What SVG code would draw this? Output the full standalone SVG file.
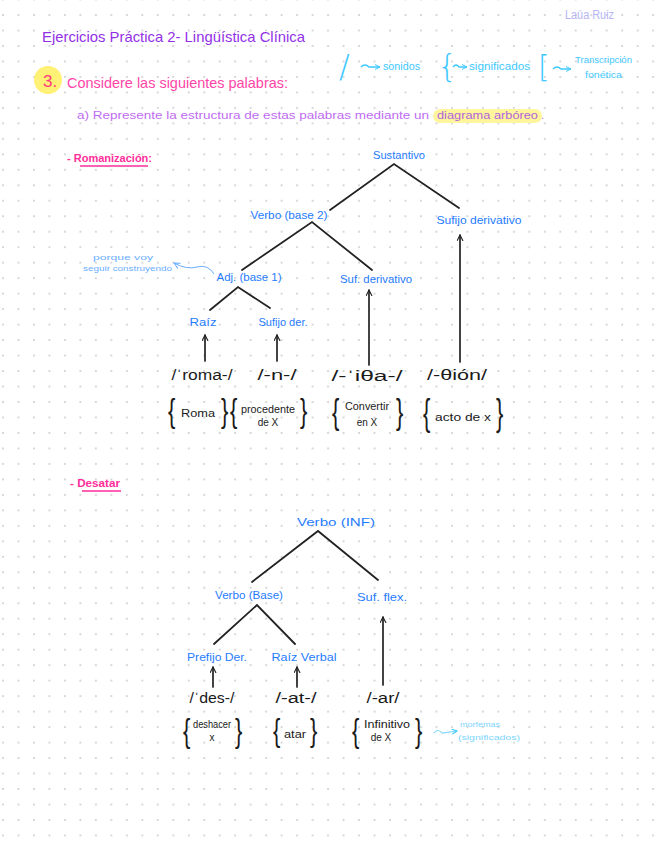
<svg xmlns="http://www.w3.org/2000/svg" width="656" height="848" viewBox="0 0 656 848">
<defs>
<pattern id="dots" patternUnits="userSpaceOnUse" x="-4.74" y="7.26" width="15.48" height="15.48">
<circle cx="7.74" cy="7.74" r="0.9" fill="#c6c6c6"/>
</pattern>
<marker id="ah" viewBox="0 0 10 10" refX="9" refY="5" markerWidth="7" markerHeight="7" markerUnits="userSpaceOnUse" orient="auto">
<path d="M1,1 L9,5 L1,9" fill="none" stroke="#222" stroke-width="1.6" stroke-linecap="round" stroke-linejoin="round"/>
</marker>
<marker id="ahc" viewBox="0 0 10 10" refX="9" refY="5" markerWidth="6" markerHeight="6" markerUnits="userSpaceOnUse" orient="auto">
<path d="M1,1 L9,5 L1,9" fill="none" stroke="#3ec8ff" stroke-width="1.6" stroke-linecap="round"/>
</marker>
<marker id="ahb" viewBox="0 0 10 10" refX="9" refY="5" markerWidth="7" markerHeight="7" markerUnits="userSpaceOnUse" orient="auto">
<path d="M1,1 L9,5 L1,9" fill="none" stroke="#6aaeff" stroke-width="1.4" stroke-linecap="round"/>
</marker>
</defs>
<style>
text { font-family: "Liberation Sans", "Noto Sans", sans-serif; }
.lbl { fill: #1f7cff; font-size: 11px; text-anchor: middle; }
.ph { fill: #1a1a1a; font-size: 14px; text-anchor: middle; }
.mn { fill: #1a1a1a; font-size: 10px; text-anchor: middle; }
.br { fill: #1a1a1a; font-size: 22px; }
.lg { font-weight: 200; font-family: "DejaVu Sans", "Liberation Sans", sans-serif; }
.cy { fill: #3ec8ff; }
.tree { stroke: #222; stroke-width: 1.8; fill: none; stroke-linecap: round; }
.arr { stroke: #222; stroke-width: 1.7; fill: none; stroke-linecap: round; marker-end: url(#ah); }
</style>
<rect width="656" height="848" fill="#ffffff"/>
<rect width="656" height="848" fill="url(#dots)"/>

<g id="header">
<text x="565" y="19" font-size="12" fill="#b5b5f3" textLength="49" lengthAdjust="spacingAndGlyphs">Laúa Ruiz</text>
<text x="42" y="42" font-size="15" fill="#9330e6" textLength="263" lengthAdjust="spacingAndGlyphs">Ejercicios Práctica 2- Lingüística Clínica</text>
<circle cx="48" cy="80" r="14" fill="#fff176"/>
<text x="43" y="87" font-size="17" fill="#ff3c7c">3.</text>
<text x="67" y="88" font-size="15" fill="#ff45a8" textLength="221" lengthAdjust="spacingAndGlyphs">Considere las siguientes palabras:</text>
<text x="77" y="119" font-size="11" fill="#c06cf2" textLength="352" lengthAdjust="spacingAndGlyphs">a) Represente la estructura de estas palabras mediante un</text>
<rect x="433" y="109" width="109" height="14" rx="7" fill="#fff59d"/>
<text x="437" y="119" font-size="11" fill="#b263dc" textLength="101" lengthAdjust="spacingAndGlyphs">diagrama arbóreo</text>
<text x="541" y="119" font-size="11" fill="#c06cf2">.</text>
</g>

<g id="legend">
<text x="339" y="77" font-size="32" class="cy lg">/</text>
<path d="M361,67 Q365,63 369,67 L380,67" stroke="#3ec8ff" stroke-width="1.4" fill="none" marker-end="url(#ahc)"/>
<text x="383" y="70" font-size="10" class="cy" textLength="37" lengthAdjust="spacingAndGlyphs">sonidos</text>
<text x="437" y="77" font-size="32" class="cy lg">{</text>
<path d="M453,67 Q456,63 459,67 L467,67" stroke="#3ec8ff" stroke-width="1.4" fill="none" marker-end="url(#ahc)"/>
<text x="469" y="70" font-size="10" class="cy" textLength="61" lengthAdjust="spacingAndGlyphs">significados</text>
<text x="538" y="77" font-size="30" class="cy lg">[</text>
<path d="M553,69 Q557,65 561,69 L571,69" stroke="#3ec8ff" stroke-width="1.4" fill="none" marker-end="url(#ahc)"/>
<text x="575" y="63" font-size="9" class="cy" textLength="57" lengthAdjust="spacingAndGlyphs">Transcripción</text>
<text x="585" y="78" font-size="9" class="cy" textLength="37" lengthAdjust="spacingAndGlyphs">fonética</text>
</g>

<g id="section-romanizacion">
<text x="67" y="162" font-size="11" font-weight="bold" fill="#ff2e9a" textLength="85" lengthAdjust="spacingAndGlyphs">- Romanización:</text>
<line x1="80" y1="166" x2="148" y2="166" stroke="#ff2e9a" stroke-width="1.6"/>
</g>
<g id="section-desatar">
<text x="70" y="487" font-size="10" font-weight="bold" fill="#ff2e9a" textLength="50" lengthAdjust="spacingAndGlyphs">- Desatar</text>
<line x1="82" y1="491" x2="121" y2="491" stroke="#ff2e9a" stroke-width="1.6"/>
</g>

<g id="connectors">
<polyline class="tree" points="330,210 394,164 459,208"/>
<polyline class="tree" points="242,270 312,222 372,270"/>
<polyline class="tree" points="210,310 238,287 270,308"/>
<line class="arr" x1="205" y1="361" x2="205" y2="335"/>
<line class="arr" x1="277" y1="361" x2="277" y2="335"/>
<line class="arr" x1="369" y1="365" x2="369" y2="290"/>
<line class="arr" x1="460" y1="362" x2="460" y2="235"/>
<polyline class="tree" points="252,582 318,531 378,580"/>
<polyline class="tree" points="214,644 257,605 295,644"/>
<line class="arr" x1="213" y1="687" x2="213" y2="667"/>
<line class="arr" x1="297" y1="687" x2="297" y2="667"/>
<line class="arr" x1="383" y1="685" x2="383" y2="617"/>
<path d="M214,274 Q208,264 197,267 Q187,270 174,263" stroke="#6aaeff" stroke-width="1" fill="none" marker-end="url(#ahb)"/>
<path d="M434,733 Q438,728 442,733 L457,731" stroke="#7dd6ff" stroke-width="1.2" fill="none" marker-end="url(#ahc)"/>
</g>

<g id="note-porque">
<text x="93" y="260" font-size="8" fill="#6aaeff" textLength="60" lengthAdjust="spacingAndGlyphs">porque voy</text>
<text x="83" y="271" font-size="8" fill="#6aaeff" textLength="89" lengthAdjust="spacingAndGlyphs">seguir construyendo</text>
</g>

<g id="n-sustantivo"><text class="lbl" x="399" y="159" textLength="52" lengthAdjust="spacingAndGlyphs">Sustantivo</text></g>
<g id="n-verbo-base2"><text class="lbl" x="289" y="219" textLength="77" lengthAdjust="spacingAndGlyphs">Verbo (base 2)</text></g>
<g id="n-sufijo-derivativo"><text class="lbl" x="479" y="224" textLength="85" lengthAdjust="spacingAndGlyphs">Sufijo derivativo</text></g>
<g id="n-adj-base1"><text class="lbl" x="249" y="281" textLength="65" lengthAdjust="spacingAndGlyphs">Adj. (base 1)</text></g>
<g id="n-suf-derivativo"><text class="lbl" x="376" y="283" textLength="72" lengthAdjust="spacingAndGlyphs">Suf. derivativo</text></g>
<g id="n-raiz"><text class="lbl" x="203" y="326" textLength="27" lengthAdjust="spacingAndGlyphs">Raíz</text></g>
<g id="n-sufijo-der"><text class="lbl" x="283" y="326" textLength="49" lengthAdjust="spacingAndGlyphs">Sufijo der.</text></g>

<g id="p-roma"><text class="ph" x="202" y="380" textLength="61" lengthAdjust="spacingAndGlyphs">/ˈroma-/</text></g>
<g id="p-n"><text class="ph" x="277" y="380" textLength="39" lengthAdjust="spacingAndGlyphs">/-n-/</text></g>
<g id="p-itha"><text class="ph" x="367" y="381" textLength="71" lengthAdjust="spacingAndGlyphs">/-ˈiθa-/</text></g>
<g id="p-thion"><text class="ph" x="457" y="380" textLength="60" lengthAdjust="spacingAndGlyphs">/-θión/</text></g>

<g id="m-roma">
<text class="br" transform="translate(168,422) scale(1,1.5)">{</text><text class="br" transform="translate(221,422) scale(1,1.5)">}</text>
<text class="mn" x="198" y="417" textLength="34" lengthAdjust="spacingAndGlyphs">Roma</text>
</g>
<g id="m-procedente">
<text class="br" transform="translate(230,422) scale(1,1.5)">{</text><text class="br" transform="translate(300,422) scale(1,1.5)">}</text>
<text class="mn" x="268" y="413" font-size="9" textLength="54" lengthAdjust="spacingAndGlyphs">procedente</text>
<text class="mn" x="268" y="426" font-size="11">de X</text>
</g>
<g id="m-convertir">
<text class="br" transform="translate(332,424) scale(1,1.6)">{</text><text class="br" transform="translate(396,424) scale(1,1.6)">}</text>
<text class="mn" x="367" y="410" textLength="44" lengthAdjust="spacingAndGlyphs">Convertir</text>
<text class="mn" x="367" y="426" font-size="12">en X</text>
</g>
<g id="m-acto">
<text class="br" transform="translate(423,425) scale(1,1.7)">{</text><text class="br" transform="translate(496,425) scale(1,1.7)">}</text>
<text class="mn" x="463" y="421" font-size="11" textLength="56" lengthAdjust="spacingAndGlyphs">acto de x</text>
</g>

<g id="n-verbo-inf"><text class="lbl" x="336" y="526" font-size="12" textLength="78" lengthAdjust="spacingAndGlyphs">Verbo (INF)</text></g>
<g id="n-verbo-base"><text class="lbl" x="249" y="599" textLength="68" lengthAdjust="spacingAndGlyphs">Verbo (Base)</text></g>
<g id="n-suf-flex"><text class="lbl" x="382" y="601" textLength="50" lengthAdjust="spacingAndGlyphs">Suf. flex.</text></g>
<g id="n-prefijo-der"><text class="lbl" x="217" y="661" textLength="60" lengthAdjust="spacingAndGlyphs">Prefijo Der.</text></g>
<g id="n-raiz-verbal"><text class="lbl" x="304" y="661" textLength="65" lengthAdjust="spacingAndGlyphs">Raíz Verbal</text></g>

<g id="p-des"><text class="ph" x="212" y="703" font-size="13" textLength="45" lengthAdjust="spacingAndGlyphs">/ˈdes-/</text></g>
<g id="p-at"><text class="ph" x="296" y="703" font-size="13" textLength="41" lengthAdjust="spacingAndGlyphs">/-at-/</text></g>
<g id="p-ar"><text class="ph" x="383" y="703" font-size="13" textLength="33" lengthAdjust="spacingAndGlyphs">/-ar/</text></g>

<g id="m-deshacer">
<text class="br" transform="translate(183,742) scale(1,1.5)">{</text><text class="br" transform="translate(235,742) scale(1,1.5)">}</text>
<text class="mn" x="212" y="728" font-size="9" textLength="38" lengthAdjust="spacingAndGlyphs">deshacer</text>
<text class="mn" x="212" y="741">x</text>
</g>
<g id="m-atar">
<text class="br" transform="translate(273,741) scale(1,1.4)">{</text><text class="br" transform="translate(310,741) scale(1,1.4)">}</text>
<text class="mn" x="295" y="738" textLength="22" lengthAdjust="spacingAndGlyphs">atar</text>
</g>
<g id="m-infinitivo">
<text class="br" transform="translate(352,742) scale(1,1.5)">{</text><text class="br" transform="translate(415,742) scale(1,1.5)">}</text>
<text class="mn" x="387" y="728" font-size="9.5" textLength="46" lengthAdjust="spacingAndGlyphs">Infinitivo</text>
<text class="mn" x="381" y="741">de X</text>
</g>

<g id="note-morfemas">
<text x="460" y="727" font-size="8" fill="#7dd6ff" textLength="40" lengthAdjust="spacingAndGlyphs">morfemas</text>
<text x="458" y="740" font-size="8" fill="#7dd6ff" textLength="62" lengthAdjust="spacingAndGlyphs">(significados)</text>
</g>
</svg>
